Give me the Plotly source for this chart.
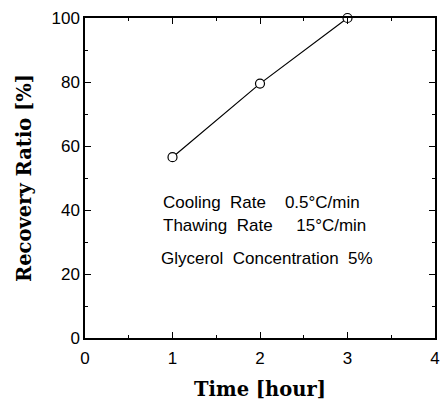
import plotly.graph_objects as go

time_hour = [1, 2, 3]
recovery_pct = [56.5, 79.5, 100]
x_ticks = [0, 1, 2, 3, 4]
y_ticks = [0, 20, 40, 60, 80, 100]
notes = ["Cooling  Rate    0.5°C/min", "Thawing  Rate     15°C/min", "Glycerol  Concentration  5%"]

fig = go.Figure()
fig.add_trace(go.Scatter(
    x=time_hour, y=recovery_pct, mode="lines+markers",
    line=dict(color="black", width=1.2),
    marker=dict(symbol="circle", size=9, color="white", line=dict(color="black", width=1.2)),
    cliponaxis=False, showlegend=False,
))

axis_common = dict(
    showgrid=False, zeroline=False, showline=True, linecolor="black", linewidth=1.5,
    mirror="allticks", ticks="inside", ticklen=6, tickcolor="black", tickwidth=1,
    ticklabeloverflow="allow",
    tickfont=dict(family="Liberation Sans, Arial", size=17, color="black"),
)
title_font = dict(family="DejaVu Serif", size=19.5, color="black")
fig.update_xaxes(range=[0, 4], tickvals=x_ticks, ticktext=[str(v) for v in x_ticks],
                 minor=dict(dtick=0.5, ticks="inside", ticklen=3, tickcolor="black"),
                 ticklabelstandoff=4,
                 title=dict(text="<b>Time [hour]</b>", font=title_font, standoff=15),
                 **axis_common)
fig.update_yaxes(range=[0, 100], tickvals=y_ticks, ticktext=[str(v) for v in y_ticks],
                 minor=dict(dtick=10, ticks="inside", ticklen=3, tickcolor="black"),
                 title=dict(text="<b>Recovery Ratio [%]</b>", font=title_font, standoff=15),
                 **axis_common)

ys = [42.5, 35.3, 25]
xs = [0.87, 0.87, 0.845]
for t, xx, yy in zip(notes, xs, ys):
    fig.add_annotation(x=xx, y=yy, text=t, showarrow=False, xanchor="left",
                       font=dict(family="Liberation Sans, Arial", size=17, color="black"))

fig.update_layout(width=441, height=401, margin=dict(l=85, r=1, t=18, b=63),
                  plot_bgcolor="white", paper_bgcolor="white")
fig.write_html("out.html")
